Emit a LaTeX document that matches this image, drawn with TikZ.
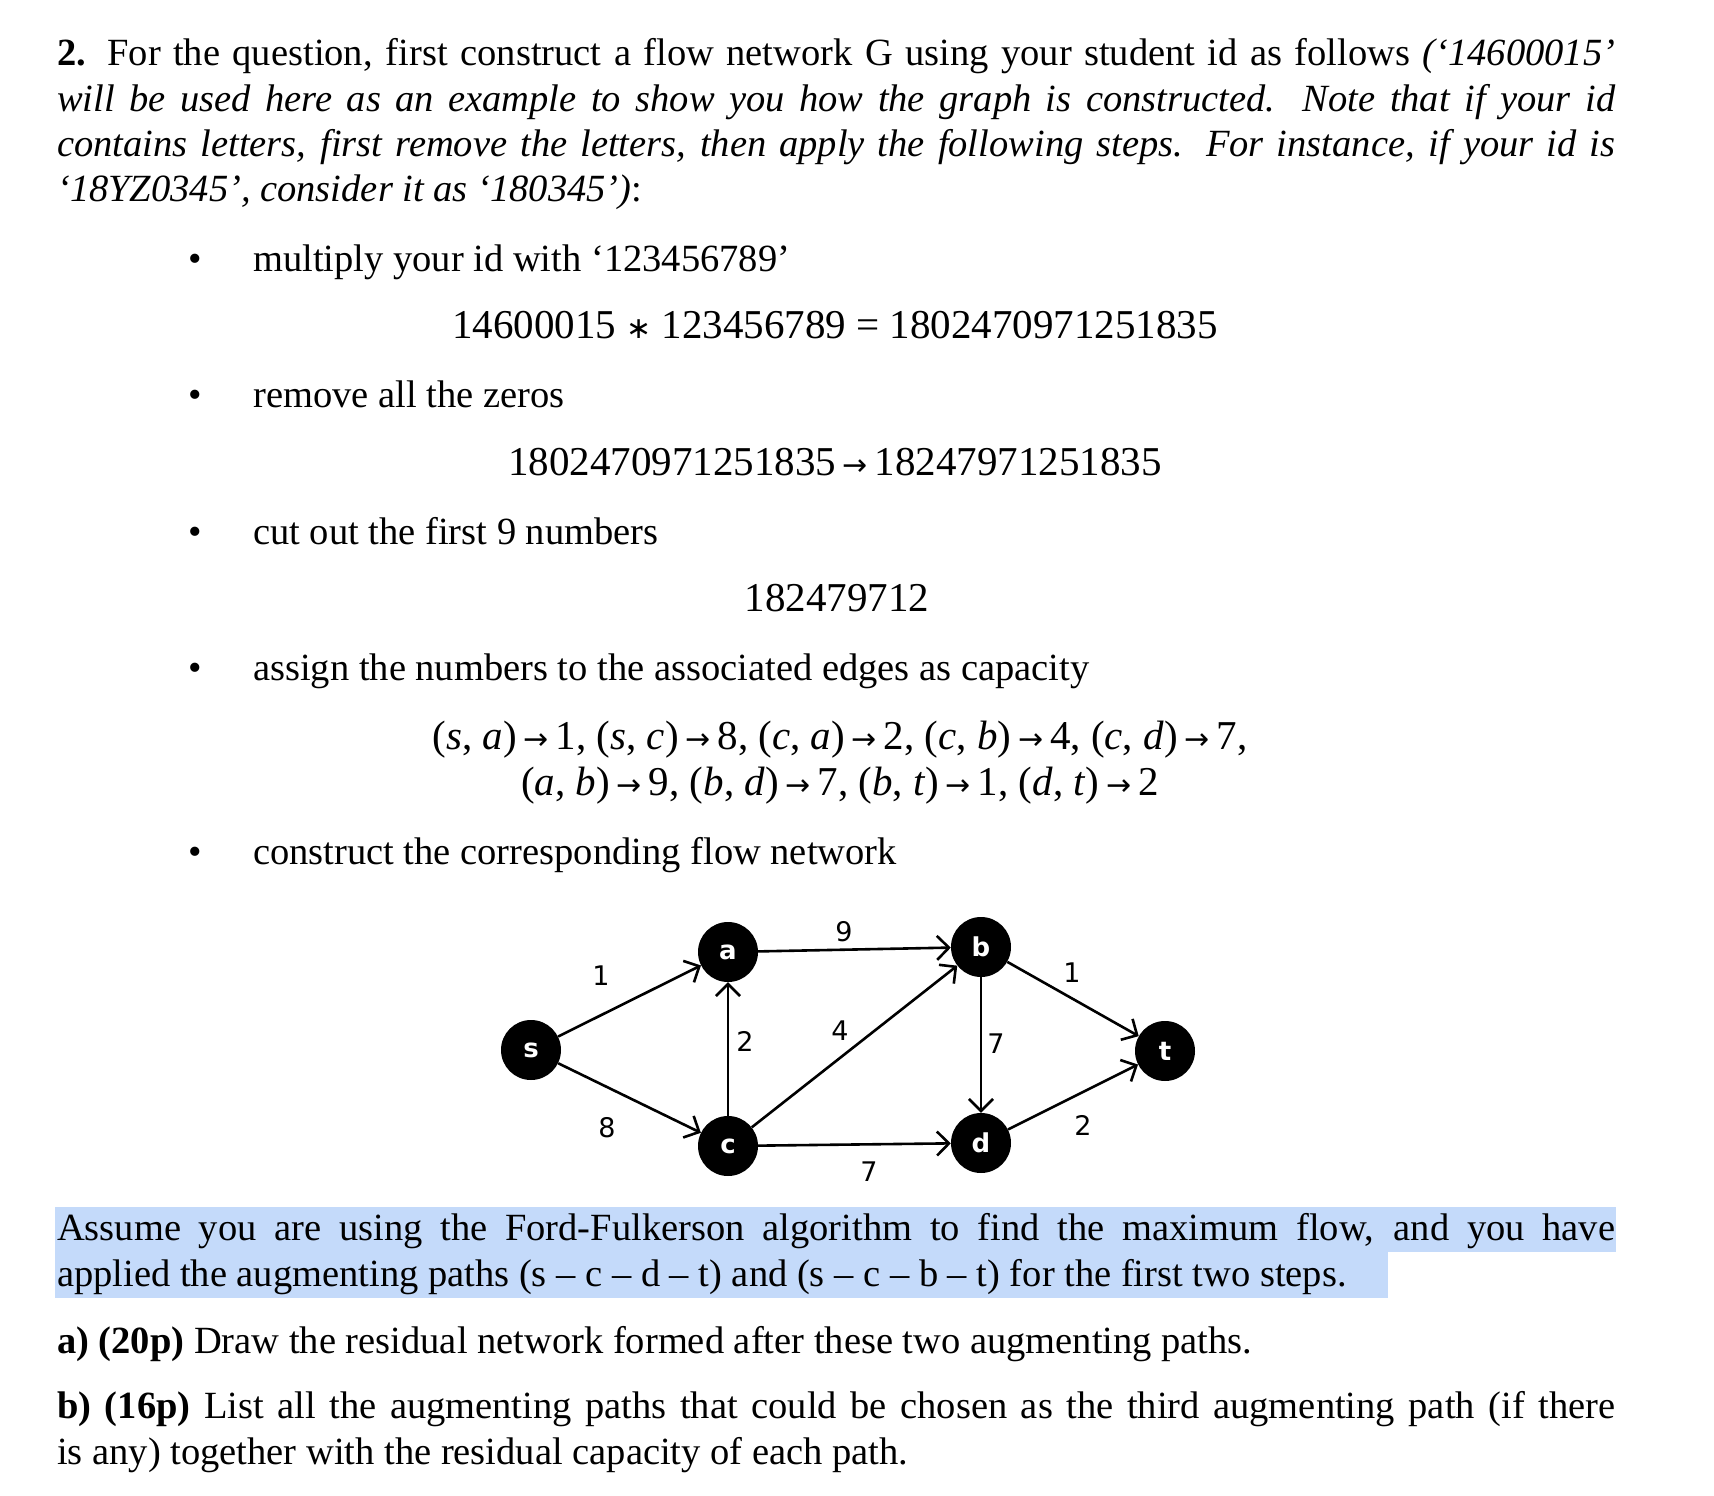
\documentclass[tikz,border=0pt]{standalone}
\usepackage{fontspec}
\setmainfont{Liberation Serif}
\newfontfamily\lblfont{DejaVu Sans}
\newcommand{\arr}{\,{\lblfont\fontsize{30}{30}\selectfont →}\,}
\newcommand{\vv}[1]{\textit{#1}}
\definecolor{hl}{RGB}{196,218,250}
\usetikzlibrary{arrows.meta}
\begin{document}
\begin{tikzpicture}[x=1pt,y=-1pt,
  txt/.style={anchor=base west,inner sep=0pt,font=\fontsize{38.5}{45}\selectfont},
  mth/.style={anchor=base,inner sep=0pt,font=\fontsize{41}{45}\selectfont},
  vtx/.style={circle,fill=black,minimum size=60pt,inner sep=0pt,text=white,font=\lblfont\bfseries\fontsize{26}{26}\selectfont},
  edge/.style={line width=2.6pt,-{Straight Barb[length=12pt,width=24pt,line width=2.6pt]}},
  elab/.style={inner sep=0pt,font=\lblfont\fontsize{27}{27}\selectfont}]
\useasboundingbox (0,0) rectangle (1714,1496);
\fill[white] (0,0) rectangle (1714,1496);
% highlight
\fill[hl] (55,1207) rectangle (1616,1252);
\fill[hl] (55,1252) rectangle (1388,1298);
% paragraph
\node[txt] (l1) at (57,66) {\makebox[1558pt][s]{\textbf{2.} For the question, first construct a flow network G using your student id as follows \textit{(`14600015'}}};
\node[txt] (l2) at (57,111) {\makebox[1558pt][s]{\itshape will be used here as an example to show you how the graph is constructed. Note that if your id}};
\node[txt] (l3) at (57,156) {\makebox[1558pt][s]{\itshape contains letters, first remove the letters, then apply the following steps. For instance, if your id is}};
\node[txt] (l4) at (57,201) {\textit{`18YZ0345', consider it as `180345')}:};
% bullets
\foreach \y/\n in {271/b1,407/b2,544/b3,680/b4,864/b5}{\node[txt] (\n) at (188,\y) {\textbullet};}
\node[txt] (t1) at (253,271) {multiply your id with `123456789'};
\node[mth] (m1) at (835,338) {14600015 {\lblfont\fontsize{30}{30}\selectfont ∗} 123456789 = 1802470971251835};
\node[txt] (t2) at (253,407) {remove all the zeros};
\node[mth] (m2) at (835,475) {1802470971251835\arr 18247971251835};
\node[txt] (t3) at (253,544) {cut out the first 9 numbers};
\node[mth] (m3) at (837,611) {182479712};
\node[txt] (t4) at (253,680) {assign the numbers to the associated edges as capacity};
\node[mth] (m4) at (840,749) {(\vv{s}, \vv{a})\arr 1, (\vv{s}, \vv{c})\arr 8, (\vv{c}, \vv{a})\arr 2, (\vv{c}, \vv{b})\arr 4, (\vv{c}, \vv{d})\arr 7,};
\node[mth] (m5) at (840,795) {(\vv{a}, \vv{b})\arr 9, (\vv{b}, \vv{d})\arr 7, (\vv{b}, \vv{t})\arr 1, (\vv{d}, \vv{t})\arr 2};
\node[txt] (t5) at (253,864) {construct the corresponding flow network};
% graph
\node[vtx] (s) at (531,1050) {s};
\node[vtx] (a) at (728,952) {a};
\node[vtx] (b) at (981,947) {b};
\node[vtx] (t) at (1165,1051) {t};
\node[vtx] (c) at (728,1146) {c};
\node[vtx] (d) at (981,1143) {d};
\draw[edge] (s) -- (a);
\draw[edge] (s) -- (c);
\draw[edge] (c) -- (a);
\draw[edge] (a) -- (b);
\draw[edge] (c) -- (b);
\draw[edge] (c) -- (d);
\draw[edge] (b) -- (d);
\draw[edge] (b) -- (t);
\draw[edge] (d) -- (t);
\node[elab] (e1) at (601,976) {1};
\node[elab] (e2) at (844,932) {9};
\node[elab] (e3) at (1072,973) {1};
\node[elab] (e4) at (745,1041) {2};
\node[elab] (e5) at (840,1031) {4};
\node[elab] (e6) at (996,1044) {7};
\node[elab] (e7) at (607,1128) {8};
\node[elab] (e8) at (869,1172) {7};
\node[elab] (e9) at (1083,1125) {2};
% question
\node[txt] (q1) at (57,1240) {\makebox[1558pt][s]{Assume you are using the Ford-Fulkerson algorithm to find the maximum flow, and you have}};
\node[txt] (q2) at (57,1286) {applied the augmenting paths (s -- c -- d -- t) and (s -- c -- b -- t) for the first two steps.};
\node[txt] (qa) at (57,1353) {\textbf{a) (20p)} Draw the residual network formed after these two augmenting paths.};
\node[txt] (qb) at (57,1418) {\makebox[1558pt][s]{\textbf{b) (16p)} List all the augmenting paths that could be chosen as the third augmenting path (if there}};
\node[txt] (qc) at (57,1464) {is any) together with the residual capacity of each path.};
\end{tikzpicture}
\end{document}
